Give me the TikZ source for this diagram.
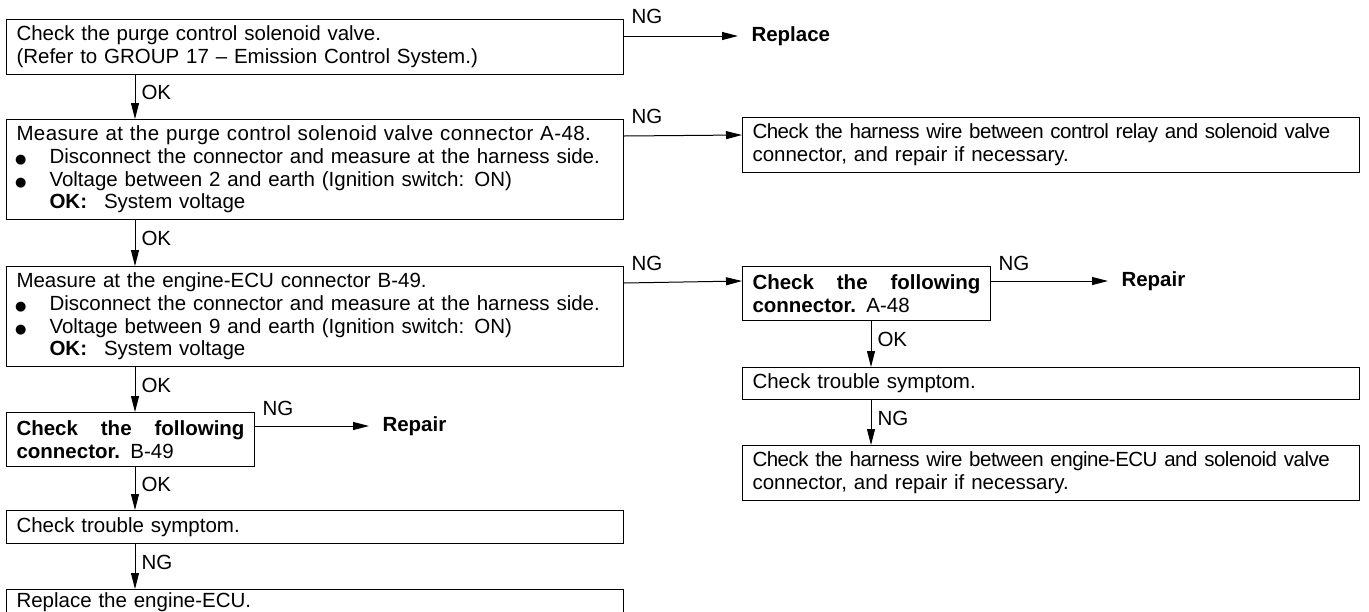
\documentclass[tikz,border=0pt]{standalone}
\usepackage{fontspec}
\setmainfont{Liberation Sans}
\newfontfamily\dotfont{DejaVu Sans}
\usetikzlibrary{positioning, arrows.meta}

% bullet with hanging indent
\newcommand{\bul}{\makebox[33pt][l]{\hspace{-1.5pt}{\fontsize{13}{13}\dotfont ●}}}
\newcommand{\okline}[1]{\hspace*{33pt}\textbf{OK:}\hspace{17pt}#1}
% tracking for long and short lines
\newcommand{\tight}[1]{{\addfontfeature{LetterSpace=-2.5}#1}}
\newcommand{\loose}[1]{{\addfontfeature{LetterSpace=2}#1}}
% first line of the narrow boxes, spread over the full width
\newcommand{\spreadline}[3]{\hbox to 228pt{#1\hfill #2\hfill #3}}

\tikzset{
  box/.style={draw, rectangle, anchor=north west, inner xsep=10pt, inner ysep=0pt,
    align=left, font=\fontsize{20.5}{22.7}\selectfont},
  wide/.style={minimum width=617pt, text width=597pt},
  narrow/.style={minimum width=248pt, text width=228pt},
  lbl/.style={inner sep=0pt, font=\fontsize{20.5}{22}\selectfont},
  endtext/.style={inner sep=0pt, anchor=west, font=\fontsize{20.5}{22}\selectfont\bfseries}
}

\begin{document}
\begin{tikzpicture}[x=1pt, y=-1pt, line width=1pt, >={Triangle[length=16pt,width=8pt]}]
\useasboundingbox (0,0) rectangle (1369,611);

			% Left column
			\node (b1) [box, wide, minimum height=55pt] at (6,19)
				{Check the purge control solenoid valve.\\(Refer to GROUP 17 – Emission Control System.)};
			\node (b2) [box, wide, minimum height=100pt, below=44pt of b1.south west, anchor=north west]
				{\loose{Measure at the purge control solenoid valve connector A-48.}\\
				 \bul Disconnect the connector and measure at the harness side.\\
				 \bul Voltage between 2 and earth (Ignition switch: ON)\\
				 \okline{System voltage}};
			\node (b4) [box, wide, minimum height=100pt, below=46pt of b2.south west, anchor=north west]
				{Measure at the engine-ECU connector B-49.\\
				 \bul Disconnect the connector and measure at the harness side.\\
				 \bul Voltage between 9 and earth (Ignition switch: ON)\\
				 \okline{System voltage}};
			\node (b6) [box, narrow, minimum height=54pt, below=45pt of b4.south west, anchor=north west]
				{\spreadline{\textbf{Check}}{\textbf{the}}{\textbf{following}}\\\textbf{connector.} B-49};
			\node (b7) [box, wide, minimum height=33pt, below=43pt of b6.south west, anchor=north west]
				{Check trouble symptom.};
			\node (b8) [box, wide, minimum height=26pt, below=45pt of b7.south west, anchor=north west]
				{Replace the engine-ECU.};

			% Right column
			\node (b3) [box, wide, minimum height=55pt] at (742,117)
				{\tight{Check the harness wire between control relay and solenoid valve}\\connector, and repair if necessary.};
			\node (b5) [box, narrow, minimum height=54pt] at (742,266)
				{\spreadline{\textbf{Check}}{\textbf{the}}{\textbf{following}}\\\textbf{connector.} A-48};
			\node (b9) [box, wide, minimum height=32pt, below=46pt of b5.south west, anchor=north west]
				{Check trouble symptom.};
			\node (b10) [box, wide, minimum height=55pt, below=45pt of b9.south west, anchor=north west]
				{\tight{Check the harness wire between engine-ECU and solenoid valve}\\connector, and repair if necessary.};

			% End results
			\node (rep1) [endtext] at ([xshift=127pt,yshift=-17pt]b1.north east) {Replace};
			\node (rep2) [endtext] at ([xshift=130pt,yshift=-15pt]b5.north east) {Repair};
			\node (rep3) [endtext] at ([xshift=127pt,yshift=-14pt]b6.north east) {Repair};

			% NG labels
			\node (ng1) [lbl, anchor=west] at ([xshift=7pt,yshift=3pt]b1.north east) {NG};
			\node (ng2) [lbl, anchor=west] at ([xshift=7pt,yshift=3pt]b2.north east) {NG};
			\node (ng4) [lbl, anchor=west] at ([xshift=7pt,yshift=3pt]b4.north east) {NG};
			\node (ng5) [lbl, anchor=west] at ([xshift=7pt,yshift=3pt]b5.north east) {NG};
			\node (ng6) [lbl, anchor=west] at ([xshift=7pt,yshift=4pt]b6.north east) {NG};

			% NG arrows
			\draw[->] ([yshift=-17pt]b1.north east) -- ([xshift=-13pt]rep1.west);
			\draw[->] ([yshift=-17pt]b2.north east) -- ([yshift=-18pt]b3.north west);
			\draw[->] ([yshift=-17pt]b4.north east) -- ([yshift=-15pt]b5.north west);
			\draw[->] ([yshift=-15pt]b5.north east) -- ([xshift=-13pt]rep2.west);
			\draw[->] ([yshift=-14pt]b6.north east) -- ([xshift=-13pt]rep3.west);

			% Downward arrows
			\draw[->] ([xshift=129pt]b1.south west) -- node[lbl, right=6pt, pos=0.4] (ok1) {OK} ([xshift=129pt]b2.north west);
			\draw[->] ([xshift=129pt]b2.south west) -- node[lbl, right=6pt, pos=0.4] (ok2) {OK} ([xshift=129pt]b4.north west);
			\draw[->] ([xshift=129pt]b4.south west) -- node[lbl, right=6pt, pos=0.4] (ok4) {OK} ([xshift=129pt]b6.north west);
			\draw[->] ([xshift=129pt]b6.south west) -- node[lbl, right=6pt, pos=0.4] (ok6) {OK} ([xshift=129pt]b7.north west);
			\draw[->] ([xshift=129pt]b7.south west) -- node[lbl, right=6pt, pos=0.4] (ng7) {NG} ([xshift=129pt]b8.north west);
			\draw[->] ([xshift=129pt]b5.south west) -- node[lbl, right=6pt, pos=0.4] (ok5) {OK} ([xshift=129pt]b9.north west);
			\draw[->] ([xshift=129pt]b9.south west) -- node[lbl, right=6pt, pos=0.4] (ng9) {NG} ([xshift=129pt]b10.north west);
\end{tikzpicture}
\end{document}
